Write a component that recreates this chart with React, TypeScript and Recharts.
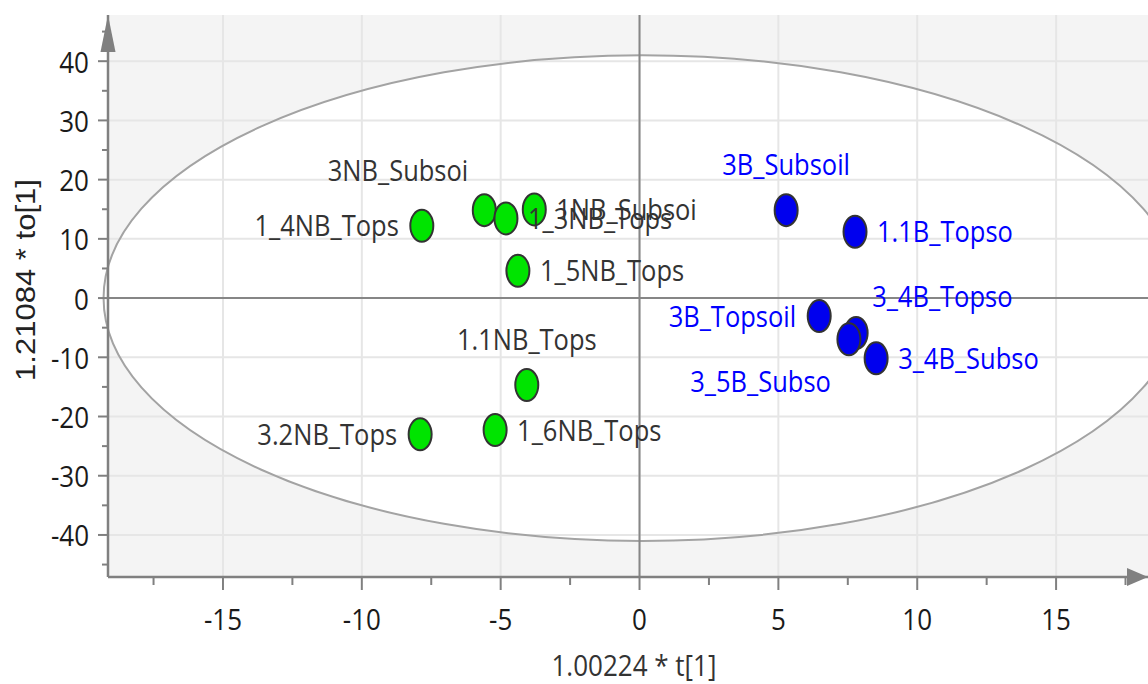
import React from "react"
import {
  ScatterChart,
  Scatter,
  XAxis,
  YAxis,
  CartesianGrid,
  ReferenceArea,
  ReferenceLine,
  LabelList,
} from "recharts"

// NB samples (green)
const nbNames = ["1_4NB_Tops", "3NB_Subsoi", "1_3NB_Tops", "1NB_Subsoi", "1_5NB_Tops", "1.1NB_Tops", "1_6NB_Tops", "3.2NB_Tops"]
const nbT = [-7.84, -5.59, -4.81, -3.79, -4.38, -4.06, -5.2, -7.9]
const nbTo = [12.2, 14.85, 13.45, 14.97, 4.6, -14.68, -22.28, -23.0]

// B samples (blue)
const bNames = ["3B_Subsoil", "1.1B_Topso", "3B_Topsoil", "3_4B_Topso", "3_5B_Subso", "3_4B_Subso"]
const bT = [5.28, 7.76, 6.47, 7.8, 7.54, 8.52]
const bTo = [14.85, 11.2, -3.04, -5.9, -6.97, -10.18]

const xTicks = [-17.5, -15, -12.5, -10, -7.5, -5, -2.5, 0, 2.5, 5, 7.5, 10, 12.5, 15, 17.5]
const yTicks = [-45, -40, -35, -30, -25, -20, -15, -10, -5, 0, 5, 10, 15, 20, 25, 30, 35, 40, 45]
const xGrid = [-15, -10, -5, 0, 5, 10, 15]
const yGrid = [-40, -30, -20, -10, 0, 10, 20, 30, 40]
const xDomain = [-19.14, 18.31]
const yDomain = [-47.1, 47.8]

// Hotelling's T2 ellipse
const ellipseCenter = [0.1, 0]
const ellipseRadii = [19.4, 41]

// where each sample name sits relative to its point
const labelSide: Record<string, string> = {
  "1_4NB_Tops": "left",
  "3NB_Subsoi": "topLeft",
  "1_3NB_Tops": "right",
  "1NB_Subsoi": "right",
  "1_5NB_Tops": "right",
  "1.1NB_Tops": "top",
  "1_6NB_Tops": "right",
  "3.2NB_Tops": "left",
  "3B_Subsoil": "top",
  "1.1B_Topso": "right",
  "3B_Topsoil": "left",
  "3_4B_Topso": "topRight",
  "3_5B_Subso": "bottomLeft",
  "3_4B_Subso": "right",
}

const nbData = nbNames.map((name, i) => ({ name, x: nbT[i], y: nbTo[i] }))
const bData = bNames.map((name, i) => ({ name, x: bT[i], y: bTo[i] }))

const FONT = "'Open Sans', 'Noto Sans', sans-serif"
const AXIS_GRAY = "#808080"

const XTick = (props: any) => {
  const { x, y, payload } = props
  const v = payload.value
  const major = v % 5 === 0
  return (
    <g>
      <line x1={x} y1={y} x2={x} y2={y + (major ? 13 : 8)} stroke={AXIS_GRAY} strokeWidth={2} />
      {major && (
        <text transform={`translate(${x},${y + 53}) scale(1,1.12)`} textAnchor="middle" fontSize={26} fontFamily={FONT} fill="#1a1a1a">
          {v}
        </text>
      )}
    </g>
  )
}

const YTick = (props: any) => {
  const { x, y, payload } = props
  const v = payload.value
  const major = v % 10 === 0
  return (
    <g>
      <line x1={x - (major ? 10 : 6)} y1={y} x2={x} y2={y} stroke={AXIS_GRAY} strokeWidth={2} />
      {major && (
        <text transform={`translate(${x - 19},${y + 11.5}) scale(1,1.1)`} textAnchor="end" fontSize={26} fontFamily={FONT} fill="#1a1a1a">
          {v}
        </text>
      )}
    </g>
  )
}

const XTitle = (props: any) => {
  const { x, y, width } = props.viewBox
  const tip = x + width
  return (
    <g>
      <polygon points={`${tip},${y} ${tip - 21},${y - 9} ${tip - 21},${y + 9}`} fill={AXIS_GRAY} />
      <text transform={`translate(${x + width / 2 + 6},${y + 99}) scale(1,1.1)`} textAnchor="middle" fontSize={26} fontFamily={FONT} fill="#333">
        1.00224 * t[1]
      </text>
    </g>
  )
}

const YTitle = (props: any) => {
  const { x, y, width, height } = props.viewBox
  const ax = x + width
  return (
    <g>
      <polygon points={`${ax},${y} ${ax - 7.5},${y + 37} ${ax + 7.5},${y + 37}`} fill={AXIS_GRAY} />
      <text
        transform={`translate(${x - 13},${y + height / 2 - 16}) scale(1,1.15) rotate(-90)`}
        textAnchor="middle"
        fontSize={27}
        fontFamily="'Liberation Sans', Arial, sans-serif"
        fill="#222"
      >
        1.21084 * to[1]
      </text>
    </g>
  )
}

const ellipseShape = (fill: string, stroke: string) => (props: any) => {
  const { x, y, width, height } = props
  return (
    <ellipse
      cx={x + width / 2}
      cy={y + height / 2}
      rx={Math.abs(width) / 2}
      ry={Math.abs(height) / 2}
      fill={fill}
      stroke={stroke}
      strokeWidth={2}
    />
  )
}

const dotShape = (fill: string) => (props: any) => (
  <ellipse cx={props.cx} cy={props.cy} rx={11.5} ry={16} fill={fill} stroke="#333" strokeWidth={2} />
)

const sampleLabel = (color: string) => (props: any) => {
  const vb = props.viewBox || props
  const cx = vb.x + vb.width / 2
  const cy = vb.y + vb.height / 2
  const name = String(props.value)
  let dx = 22
  let dy = 0
  let anchor = "start"
  switch (labelSide[name]) {
    case "left":
      dx = -23
      anchor = "end"
      break
    case "top":
      dx = 0
      dy = -46
      anchor = "middle"
      break
    case "topLeft":
      dx = -16
      dy = -40
      anchor = "end"
      break
    case "topRight":
      dx = 16
      dy = -37
      break
    case "bottomLeft":
      dx = -18
      dy = 42
      anchor = "end"
      break
  }
  return (
    <text
      transform={`translate(${cx + dx},${cy + dy + 10.5}) scale(1,1.15)`}
      textAnchor={anchor}
      fontSize={25.5}
      fontFamily={FONT}
      fill={color}
    >
      {name}
    </text>
  )
}

export default function App() {
  return (
    <div style={{ position: "absolute", left: 0, top: 0, width: 1148, height: 684, background: "#fff", overflow: "hidden" }}>
      <ScatterChart width={1148} height={684} margin={{ top: 15, right: 0, bottom: 47, left: 48 }}>
        {/* plot background */}
        <ReferenceArea
          x1={xDomain[0]}
          x2={xDomain[1]}
          y1={yDomain[0]}
          y2={yDomain[1]}
          fill="#f4f4f4"
          fillOpacity={1}
          stroke="none"
          ifOverflow="hidden"
          zIndex={-300}
        />
        {/* ellipse interior */}
        <ReferenceArea
          x1={ellipseCenter[0] - ellipseRadii[0]}
          x2={ellipseCenter[0] + ellipseRadii[0]}
          y1={ellipseCenter[1] - ellipseRadii[1]}
          y2={ellipseCenter[1] + ellipseRadii[1]}
          ifOverflow="hidden"
          shape={ellipseShape("#ffffff", "none")}
          zIndex={-200}
        />
        <CartesianGrid
          horizontalValues={yGrid}
          verticalValues={xGrid}
          stroke="#e6e6e6"
          strokeWidth={2}
          zIndex={-100}
        />
        {/* ellipse outline */}
        <ReferenceArea
          x1={ellipseCenter[0] - ellipseRadii[0]}
          x2={ellipseCenter[0] + ellipseRadii[0]}
          y1={ellipseCenter[1] - ellipseRadii[1]}
          y2={ellipseCenter[1] + ellipseRadii[1]}
          ifOverflow="hidden"
          shape={ellipseShape("none", "#a3a3a3")}
          zIndex={-50}
        />
        <ReferenceLine x={0} stroke="#868686" strokeWidth={2} />
        <ReferenceLine y={0} stroke="#868686" strokeWidth={2} />
        <XAxis
          type="number"
          dataKey="x"
          domain={xDomain}
          allowDataOverflow
          ticks={xTicks}
          interval={0}
          tickSize={0}
          tickMargin={0}
          tickLine={false}
          tick={XTick}
          height={60}
          axisLine={{ stroke: AXIS_GRAY, strokeWidth: 2.5 }}
          label={{ content: XTitle }}
        />
        <YAxis
          type="number"
          dataKey="y"
          domain={yDomain}
          allowDataOverflow
          ticks={yTicks}
          interval={0}
          tickSize={0}
          tickMargin={0}
          tickLine={false}
          tick={YTick}
          width={60}
          axisLine={{ stroke: AXIS_GRAY, strokeWidth: 2.5 }}
          label={{ content: YTitle }}
        />
        <Scatter data={nbData} shape={dotShape("#00e400")} isAnimationActive={false}>
          <LabelList dataKey="name" content={sampleLabel("#333333")} />
        </Scatter>
        <Scatter data={bData} shape={dotShape("#0000ee")} isAnimationActive={false}>
          <LabelList dataKey="name" content={sampleLabel("#0000ff")} />
        </Scatter>
      </ScatterChart>
    </div>
  )
}
